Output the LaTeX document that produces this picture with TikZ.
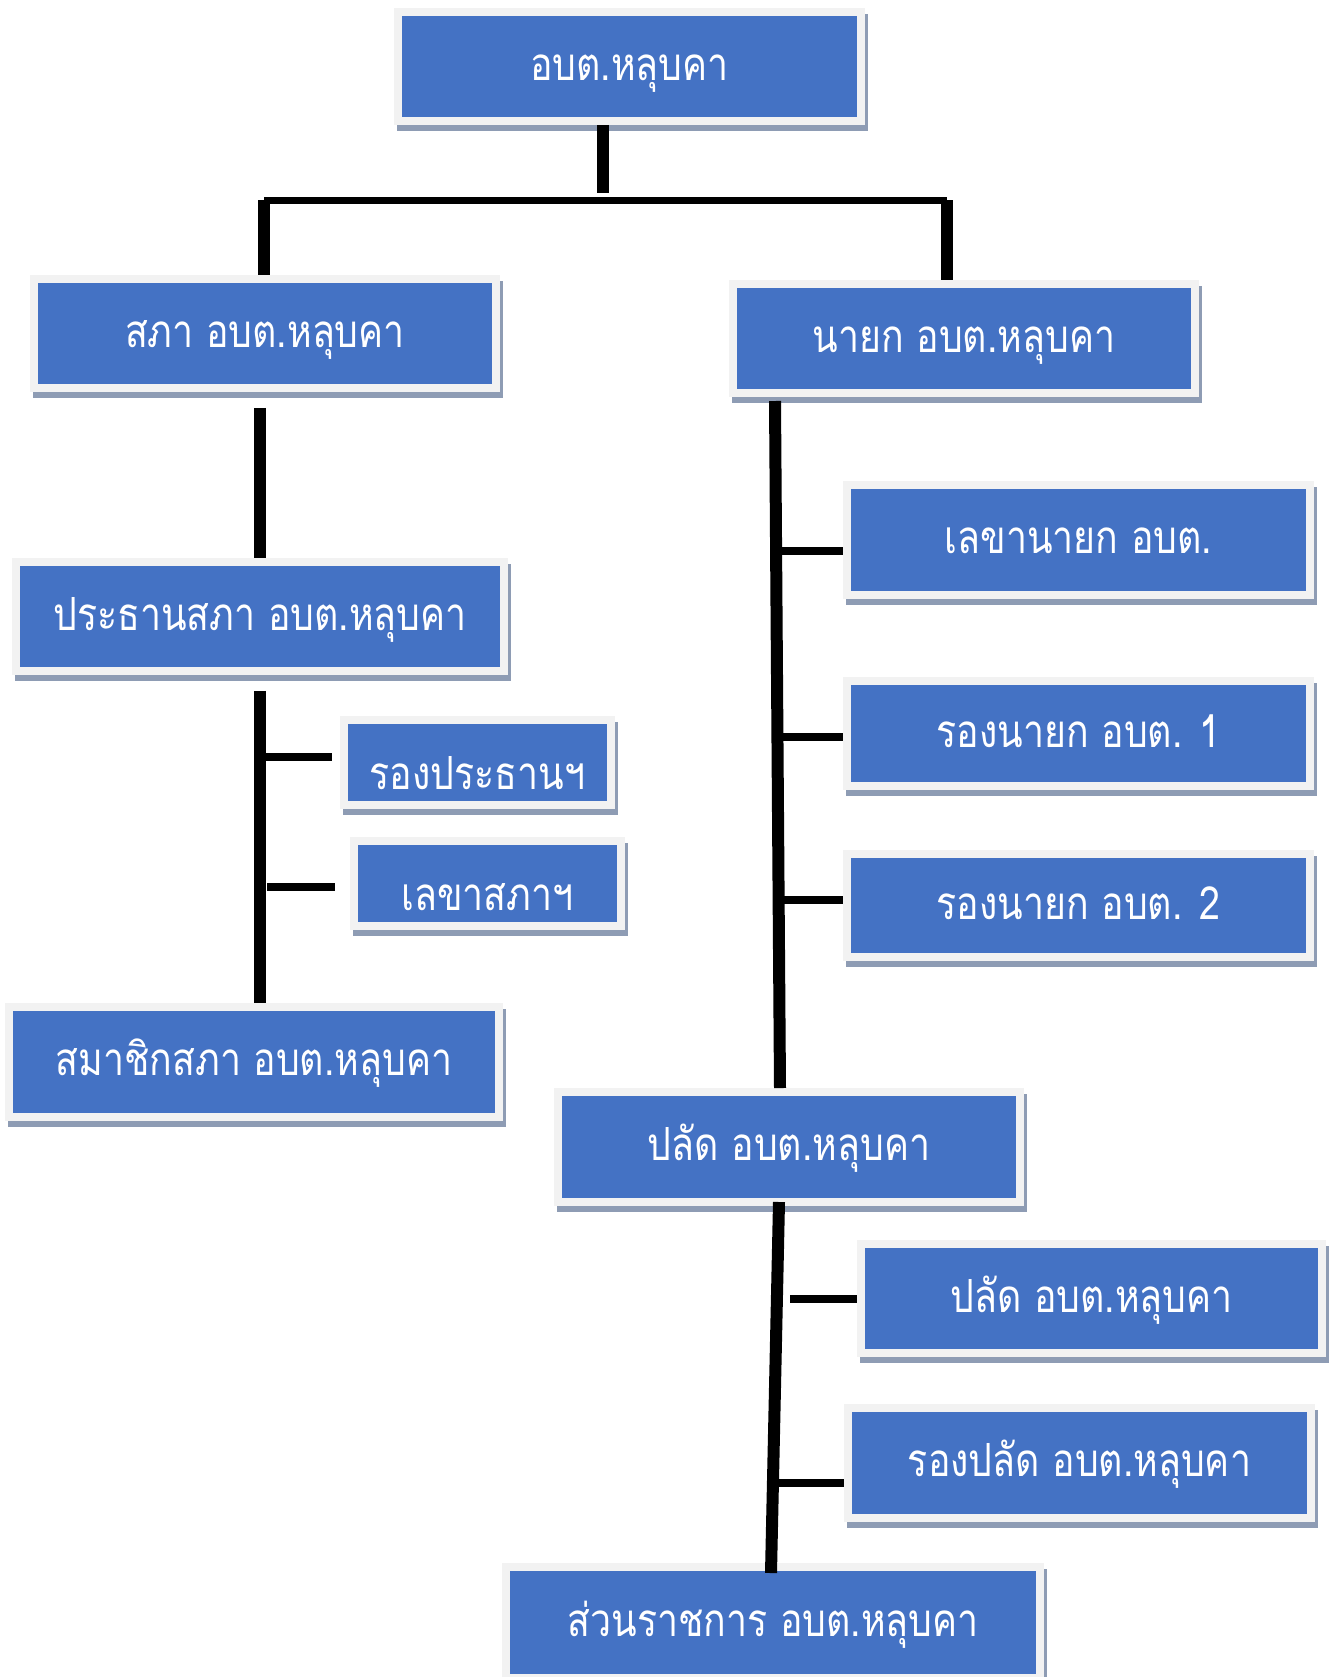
\documentclass[tikz,border=0pt]{standalone}
\usepackage{fontspec}
\newfontfamily\thaifont[Script=Thai, FakeStretch=0.82]{Loma}
\usetikzlibrary{shadows}

\definecolor{boxblue}{HTML}{4472C4}
\definecolor{boxrim}{HTML}{F2F2F2}
\definecolor{boxshade}{HTML}{8E9CB4}

\tikzset{
  orgbox/.style={rectangle, fill=boxblue, draw=boxrim, line width=0.16cm, inner sep=0pt,
    minimum width=9.26cm, minimum height=2.18cm, text=white,
    font=\thaifont\fontsize{26}{30}\selectfont, text height=15.4pt, text depth=0pt,
    drop shadow={shadow xshift=0.06cm, shadow yshift=-0.12cm, fill=boxshade, draw=boxshade, opacity=1}},
  smallbox/.style={orgbox, minimum width=5.34cm, minimum height=1.70cm},
  lowtext/.style={text=white, font=\thaifont\fontsize{26}{30}\selectfont,
    text height=15.4pt, text depth=0pt, yshift=-0.26cm},
  stem/.style={line width=0.24cm},
  twig/.style={line width=0.16cm},
  crossbar/.style={line width=0.14cm}
}

\begin{document}
\begin{tikzpicture}[x=0.02cm, y=-0.02cm]
  \useasboundingbox (0,0) rectangle (1336,1677);
  \path[clip] (0,0) rectangle (1336,1677);

  % top level
  \node[orgbox] (top) at (629.5,66.5) {อบต.หลุบคา};
  \node[orgbox] (sapa) at (265,333.5) {สภา อบต.หลุบคา};
  \node[orgbox, minimum width=9.24cm] (nayok) at (964,338.5) {นายก อบต.หลุบคา};

  % council side
  \node[orgbox, minimum width=9.76cm] (prathan) at (260,616.5) {ประธานสภา อบต.หลุบคา};
  \node[smallbox, label={[lowtext]center:รองประธานฯ}] (rongprathan) at (477.5,762.5) {};
  \node[smallbox, label={[lowtext]center:เลขาสภาฯ}] (lekhasapa) at (487.5,883.5) {};
  \node[orgbox, minimum width=9.8cm, minimum height=2.2cm] (samachik) at (254,1062) {สมาชิกสภา อบต.หลุบคา};

  % executive side
  \node[orgbox, minimum height=2.2cm] (lekhanayok) at (1078.5,540) {เลขานายก อบต.};
  \node[orgbox, minimum height=2.1cm] (rongnayok1) at (1078.5,733.5) {รองนายก อบต. 1};
  \node[orgbox, minimum height=2.06cm] (rongnayok2) at (1078.5,905.5) {รองนายก อบต. 2};
  \node[orgbox, minimum width=9.24cm, minimum height=2.2cm] (palad) at (789,1147) {ปลัด อบต.หลุบคา};
  \node[orgbox, minimum width=9.22cm] (paladsub) at (1091.5,1298.5) {ปลัด อบต.หลุบคา};
  \node[orgbox, minimum height=2.2cm] (rongpalad) at (1079.5,1463) {รองปลัด อบต.หลุบคา};
  \node[orgbox, minimum width=10.68cm, minimum height=2.22cm] (suan) at (773,1622.5) {ส่วนราชการ อบต.หลุบคา};

  % junctions
  \coordinate (hubT) at (603,193);
  \coordinate (barL) at (264,200);
  \coordinate (barR) at (947,200);
  \coordinate (nkTrunk) at (775,401);
  \coordinate (plTrunk) at (779,1202);

  % connectors
  \draw[stem] (hubT |- top.south) -- (hubT);
  \draw[crossbar] (barL) -- (barR);
  \draw[stem] (barL) -- (barL |- sapa.north);
  \draw[stem] (barR) -- (barR |- nayok.north);
  \draw[stem, shorten <=0.32cm] (sapa.south -| prathan) -- (prathan.north);
  \draw[stem, shorten <=0.32cm] (prathan.south) -- (prathan.south |- samachik.north);
  \draw[twig, shorten >=0.16cm] ([yshift=0.11cm]rongprathan.west -| prathan.south) -- ([yshift=0.11cm]rongprathan.west);
  \draw[twig, shorten <=0.14cm, shorten >=0.3cm] ([yshift=-0.07cm]lekhasapa.west -| prathan.south) -- ([yshift=-0.07cm]lekhasapa.west);

  \draw[stem] (nkTrunk) -- ([xshift=0.1cm]nkTrunk |- palad.north);
  \foreach \b/\dy in {lekhanayok/-0.22, rongnayok1/-0.07, rongnayok2/0.11}
    \draw[twig] ([yshift=\dy cm]\b.west -| nkTrunk) -- ([yshift=\dy cm]\b.west);

  \draw[stem] (plTrunk) -- ([xshift=-0.16cm, yshift=-0.2cm]plTrunk |- suan.north);
  \draw[twig, shorten <=0.22cm] (paladsub.west -| plTrunk) -- (paladsub.west);
  \draw[twig] ([yshift=-0.4cm]rongpalad.west -| plTrunk) -- ([yshift=-0.4cm]rongpalad.west);
\end{tikzpicture}
\end{document}
